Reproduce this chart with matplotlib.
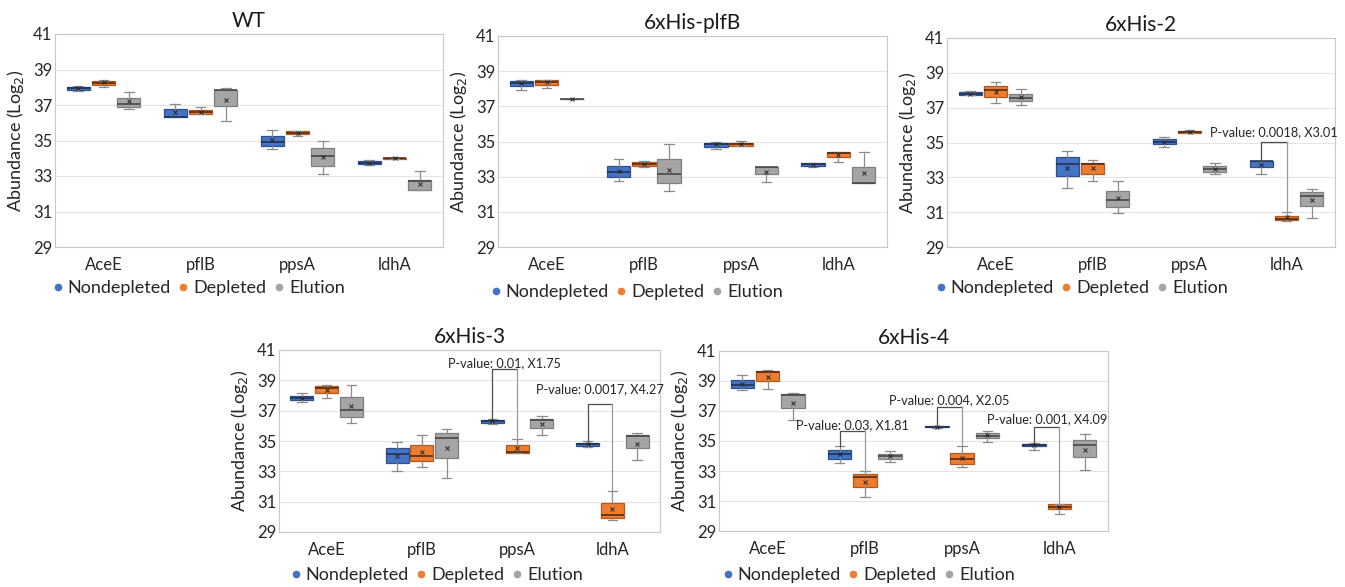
import matplotlib
matplotlib.use('Agg')
import matplotlib.pyplot as plt
from matplotlib.lines import Line2D

plt.rcParams['font.family'] = ['Lato', 'DejaVu Sans']

CATEGORIES = ['AceE', 'pflB', 'ppsA', 'ldhA']
SERIES = ['Nondepleted', 'Depleted', 'Elution']
YTICKS = [29, 31, 33, 35, 37, 39, 41]
TITLES = ['WT', '6xHis-plfB', '6xHis-2', '6xHis-3', '6xHis-4']

# each row (per category): [whisker_low, q1, median, q3, whisker_high, mean]
WT_NONDEP = [[37.80, 37.85, 37.95, 38.00, 38.06, 37.93],
             [36.31, 36.31, 36.35, 36.76, 37.08, 36.60],
             [34.52, 34.69, 34.94, 35.26, 35.58, 35.03],
             [33.64, 33.69, 33.75, 33.83, 33.90, 33.76]]
WT_DEP = [[38.00, 38.14, 38.23, 38.33, 38.40, 38.28],
          [36.50, 36.50, 36.63, 36.72, 36.86, 36.62],
          [35.26, 35.37, 35.45, 35.52, 35.54, 35.44],
          [33.97, 33.98, 34.01, 34.03, 34.04, 34.01]]
WT_ELU = [[36.78, 36.88, 37.05, 37.42, 37.72, 37.20],
          [36.12, 36.95, 37.82, 37.86, 37.93, 37.29],
          [33.09, 33.58, 34.13, 34.56, 34.97, 34.05],
          [32.22, 32.22, 32.71, 32.75, 33.26, 32.56]]

PLFB_NONDEP = [[37.92, 38.15, 38.30, 38.43, 38.52, 38.30],
               [32.74, 33.00, 33.27, 33.63, 33.99, 33.33],
               [34.57, 34.71, 34.86, 34.93, 34.99, 34.84],
               [33.57, 33.63, 33.70, 33.76, 33.80, 33.68]]
PLFB_DEP = [[38.05, 38.24, 38.39, 38.49, 38.52, 38.39],
            [33.53, 33.61, 33.74, 33.82, 33.89, 33.74],
            [34.76, 34.76, 34.86, 34.93, 35.05, 34.84],
            [33.85, 34.14, 34.36, 34.40, 34.42, 34.23]]
PLFB_ELU = [[37.39, 37.40, 37.41, 37.42, 37.43, 37.41],
            [32.19, 32.66, 33.15, 34.02, 34.86, 33.38],
            [32.70, 33.14, 33.55, 33.57, 33.57, 33.29],
            [32.63, 32.63, 32.66, 33.53, 34.42, 33.23]]

HIS2_NONDEP = [[37.70, 37.74, 37.81, 37.89, 37.97, 37.81],
               [32.38, 33.07, 33.78, 34.15, 34.49, 33.53],
               [34.76, 34.89, 35.05, 35.18, 35.34, 35.05],
               [33.22, 33.57, 33.91, 33.93, 33.95, 33.72]]
HIS2_DEP = [[37.27, 37.60, 38.00, 38.22, 38.47, 37.91],
            [32.78, 33.22, 33.74, 33.84, 33.97, 33.51],
            [35.52, 35.53, 35.58, 35.64, 35.74, 35.58],
            [30.48, 30.54, 30.63, 30.80, 31.02, 30.71]]
HIS2_ELU = [[37.16, 37.37, 37.58, 37.81, 38.06, 37.64],
            [30.96, 31.32, 31.69, 32.24, 32.78, 31.82],
            [33.17, 33.32, 33.49, 33.67, 33.80, 33.47],
            [30.69, 31.34, 31.94, 32.15, 32.34, 31.69]]

HIS3_NONDEP = [[37.58, 37.72, 37.85, 37.98, 38.14, 37.85],
               [33.01, 33.55, 34.17, 34.57, 34.94, 34.03],
               [36.12, 36.21, 36.34, 36.39, 36.43, 36.30],
               [34.59, 34.68, 34.81, 34.88, 34.97, 34.79]]
HIS3_DEP = [[37.81, 38.16, 38.49, 38.65, 38.69, 38.38],
            [33.28, 33.68, 34.03, 34.74, 35.39, 34.26],
            [34.21, 34.21, 34.28, 34.72, 35.10, 34.54],
            [29.78, 29.95, 30.11, 30.91, 31.68, 30.51]]
HIS3_ELU = [[36.21, 36.61, 37.05, 37.87, 38.69, 37.32],
            [32.59, 33.90, 35.23, 35.54, 35.76, 34.54],
            [35.39, 35.83, 36.39, 36.47, 36.63, 36.10],
            [33.72, 34.52, 35.30, 35.39, 35.50, 34.83]]

HIS4_NONDEP = [[38.42, 38.56, 38.71, 39.04, 39.42, 38.82],
               [33.53, 33.82, 34.11, 34.38, 34.67, 34.11],
               [35.89, 35.91, 35.96, 36.00, 36.02, 35.96],
               [34.42, 34.64, 34.71, 34.82, 34.87, 34.73]]
HIS4_DEP = [[38.49, 39.00, 39.60, 39.64, 39.76, 39.27],
            [31.27, 31.93, 32.60, 32.82, 33.00, 32.27],
            [33.27, 33.49, 33.82, 34.22, 34.69, 33.89],
            [30.16, 30.49, 30.60, 30.78, 30.78, 30.60]]
HIS4_ELU = [[36.38, 37.22, 38.09, 38.16, 38.22, 37.56],
            [33.60, 33.82, 34.00, 34.16, 34.33, 34.00],
            [34.93, 35.20, 35.33, 35.53, 35.64, 35.38],
            [33.09, 33.93, 34.71, 35.09, 35.44, 34.42]]

# significance annotations: text, category index, bracket level, label level
HIS2_PTEXT = ['P-value: 0.0018, X3.01']
HIS2_PCAT = [3]
HIS2_PBAR = [35.05]
HIS2_PLAB = [35.57]

HIS3_PTEXT = ['P-value: 0.01, X1.75', 'P-value: 0.0017, X4.27']
HIS3_PCAT = [2, 3]
HIS3_PBAR = [39.78, 37.43]
HIS3_PLAB = [40.16, 38.43]

HIS4_PTEXT = ['P-value: 0.03, X1.81', 'P-value: 0.004, X2.05', 'P-value: 0.001, X4.09']
HIS4_PCAT = [1, 2, 3]
HIS4_PBAR = [35.67, 37.27, 35.93]
HIS4_PLAB = [36.04, 37.71, 36.44]

# ---------------- styling / layout ----------------
FACE = ['#4472C4', '#ED7D31', '#A5A5A5']
EDGE = ['#2F528F', '#AE5A21', '#7F7F7F']
MEDC = ['#1F2D4D', '#4A2410', '#404040']
OFFSETS = [-0.26, 0.0, 0.26]
BOXW = 0.24

fig = plt.figure(figsize=(13.45, 5.87), dpi=100)
W, H = 1345.0, 587.0


def px_axes(l, r, t, b):
    return [l / W, 1 - b / H, (r - l) / W, (b - t) / H]


AX_POS = [px_axes(55, 443, 34, 247), px_axes(498, 887, 36, 247),
          px_axes(947, 1335, 38, 247), px_axes(279, 660, 350, 532),
          px_axes(719, 1108, 351, 531)]
LEG_POS = [(45, 288), (483, 292), (928, 288), (283, 575), (715, 575)]
TITLE_SIZE = [15, 15, 15, 15, 15]

PANELS = [
    (WT_NONDEP, WT_DEP, WT_ELU, [], [], [], []),
    (PLFB_NONDEP, PLFB_DEP, PLFB_ELU, [], [], [], []),
    (HIS2_NONDEP, HIS2_DEP, HIS2_ELU, HIS2_PTEXT, HIS2_PCAT, HIS2_PBAR, HIS2_PLAB),
    (HIS3_NONDEP, HIS3_DEP, HIS3_ELU, HIS3_PTEXT, HIS3_PCAT, HIS3_PBAR, HIS3_PLAB),
    (HIS4_NONDEP, HIS4_DEP, HIS4_ELU, HIS4_PTEXT, HIS4_PCAT, HIS4_PBAR, HIS4_PLAB),
]

for p, (nd, dp, el, ptext, pcat, pbar, plab) in enumerate(PANELS):
    ax = fig.add_axes(AX_POS[p])
    series = [nd, dp, el]
    for s, rows in enumerate(series):
        stats = [dict(whislo=r[0], q1=r[1], med=r[2], q3=r[3], whishi=r[4],
                      mean=r[5], fliers=[]) for r in rows]
        positions = [i + OFFSETS[s] for i in range(len(CATEGORIES))]
        ax.bxp(stats, positions=positions, widths=BOXW, capwidths=0.1,
               patch_artist=True, showmeans=True, showfliers=False,
               manage_ticks=False,
               boxprops=dict(facecolor=FACE[s], edgecolor=EDGE[s], linewidth=0.9),
               medianprops=dict(color=MEDC[s], linewidth=1.1),
               whiskerprops=dict(color='#8C8C8C', linewidth=0.9),
               capprops=dict(color='#8C8C8C', linewidth=0.9),
               meanprops=dict(marker='x', markersize=3.5, markeredgecolor='#262626',
                              markeredgewidth=0.7, linestyle=''))
    # significance brackets
    for t, c, bl, ly in zip(ptext, pcat, pbar, plab):
        xl = c + OFFSETS[0]
        xr = c + OFFSETS[1]
        yl = nd[c][4]
        yr = dp[c][4]
        ax.plot([xl, xl, xr], [yl, bl, bl], color='#4D4D4D', lw=0.9,
                clip_on=False, zorder=5)
        ax.plot([xr, xr], [bl, yr], color='#9A9A9A', lw=0.9,
                clip_on=False, zorder=5)
        ax.text((xl + xr) / 2, ly, t, ha='center', va='center', fontsize=9.2,
                color='#262626', clip_on=False, zorder=6)

    ax.set_xlim(-0.5, 3.5)
    ax.set_ylim(29, 41)
    ax.set_yticks(YTICKS)
    ax.set_xticks(range(len(CATEGORIES)))
    ax.set_xticklabels(CATEGORIES)
    ax.yaxis.grid(True, color='#E4E4E4', linewidth=0.8)
    ax.set_axisbelow(True)
    for sp in ax.spines.values():
        sp.set_color('#C8C8C8')
        sp.set_linewidth(0.8)
    ax.tick_params(axis='both', length=0, labelsize=12)
    ax.tick_params(axis='x', pad=7)
    ax.tick_params(axis='y', pad=2)
    for lab in ax.get_xticklabels() + ax.get_yticklabels():
        lab.set_color('#262626')
    ax.set_ylabel('Abundance (Log$_2$)', fontsize=13, color='#262626', labelpad=5)
    ax.set_title(TITLES[p], fontsize=TITLE_SIZE[p], color='#1A1A1A', pad=5)

    handles = [Line2D([], [], marker='o', linestyle='', markersize=4.5,
                      markerfacecolor=FACE[k], markeredgecolor=FACE[k]) for k in range(3)]
    lx, ly = LEG_POS[p]
    ax.legend(handles, SERIES, loc='center left', bbox_to_anchor=(lx / W, 1 - ly / H),
              bbox_transform=fig.transFigure, ncol=3, frameon=False, fontsize=13,
              handlelength=0.4, handletextpad=0.35, columnspacing=0.5, borderpad=0,
              labelcolor='#262626')

fig.savefig('out.png', dpi=100)
